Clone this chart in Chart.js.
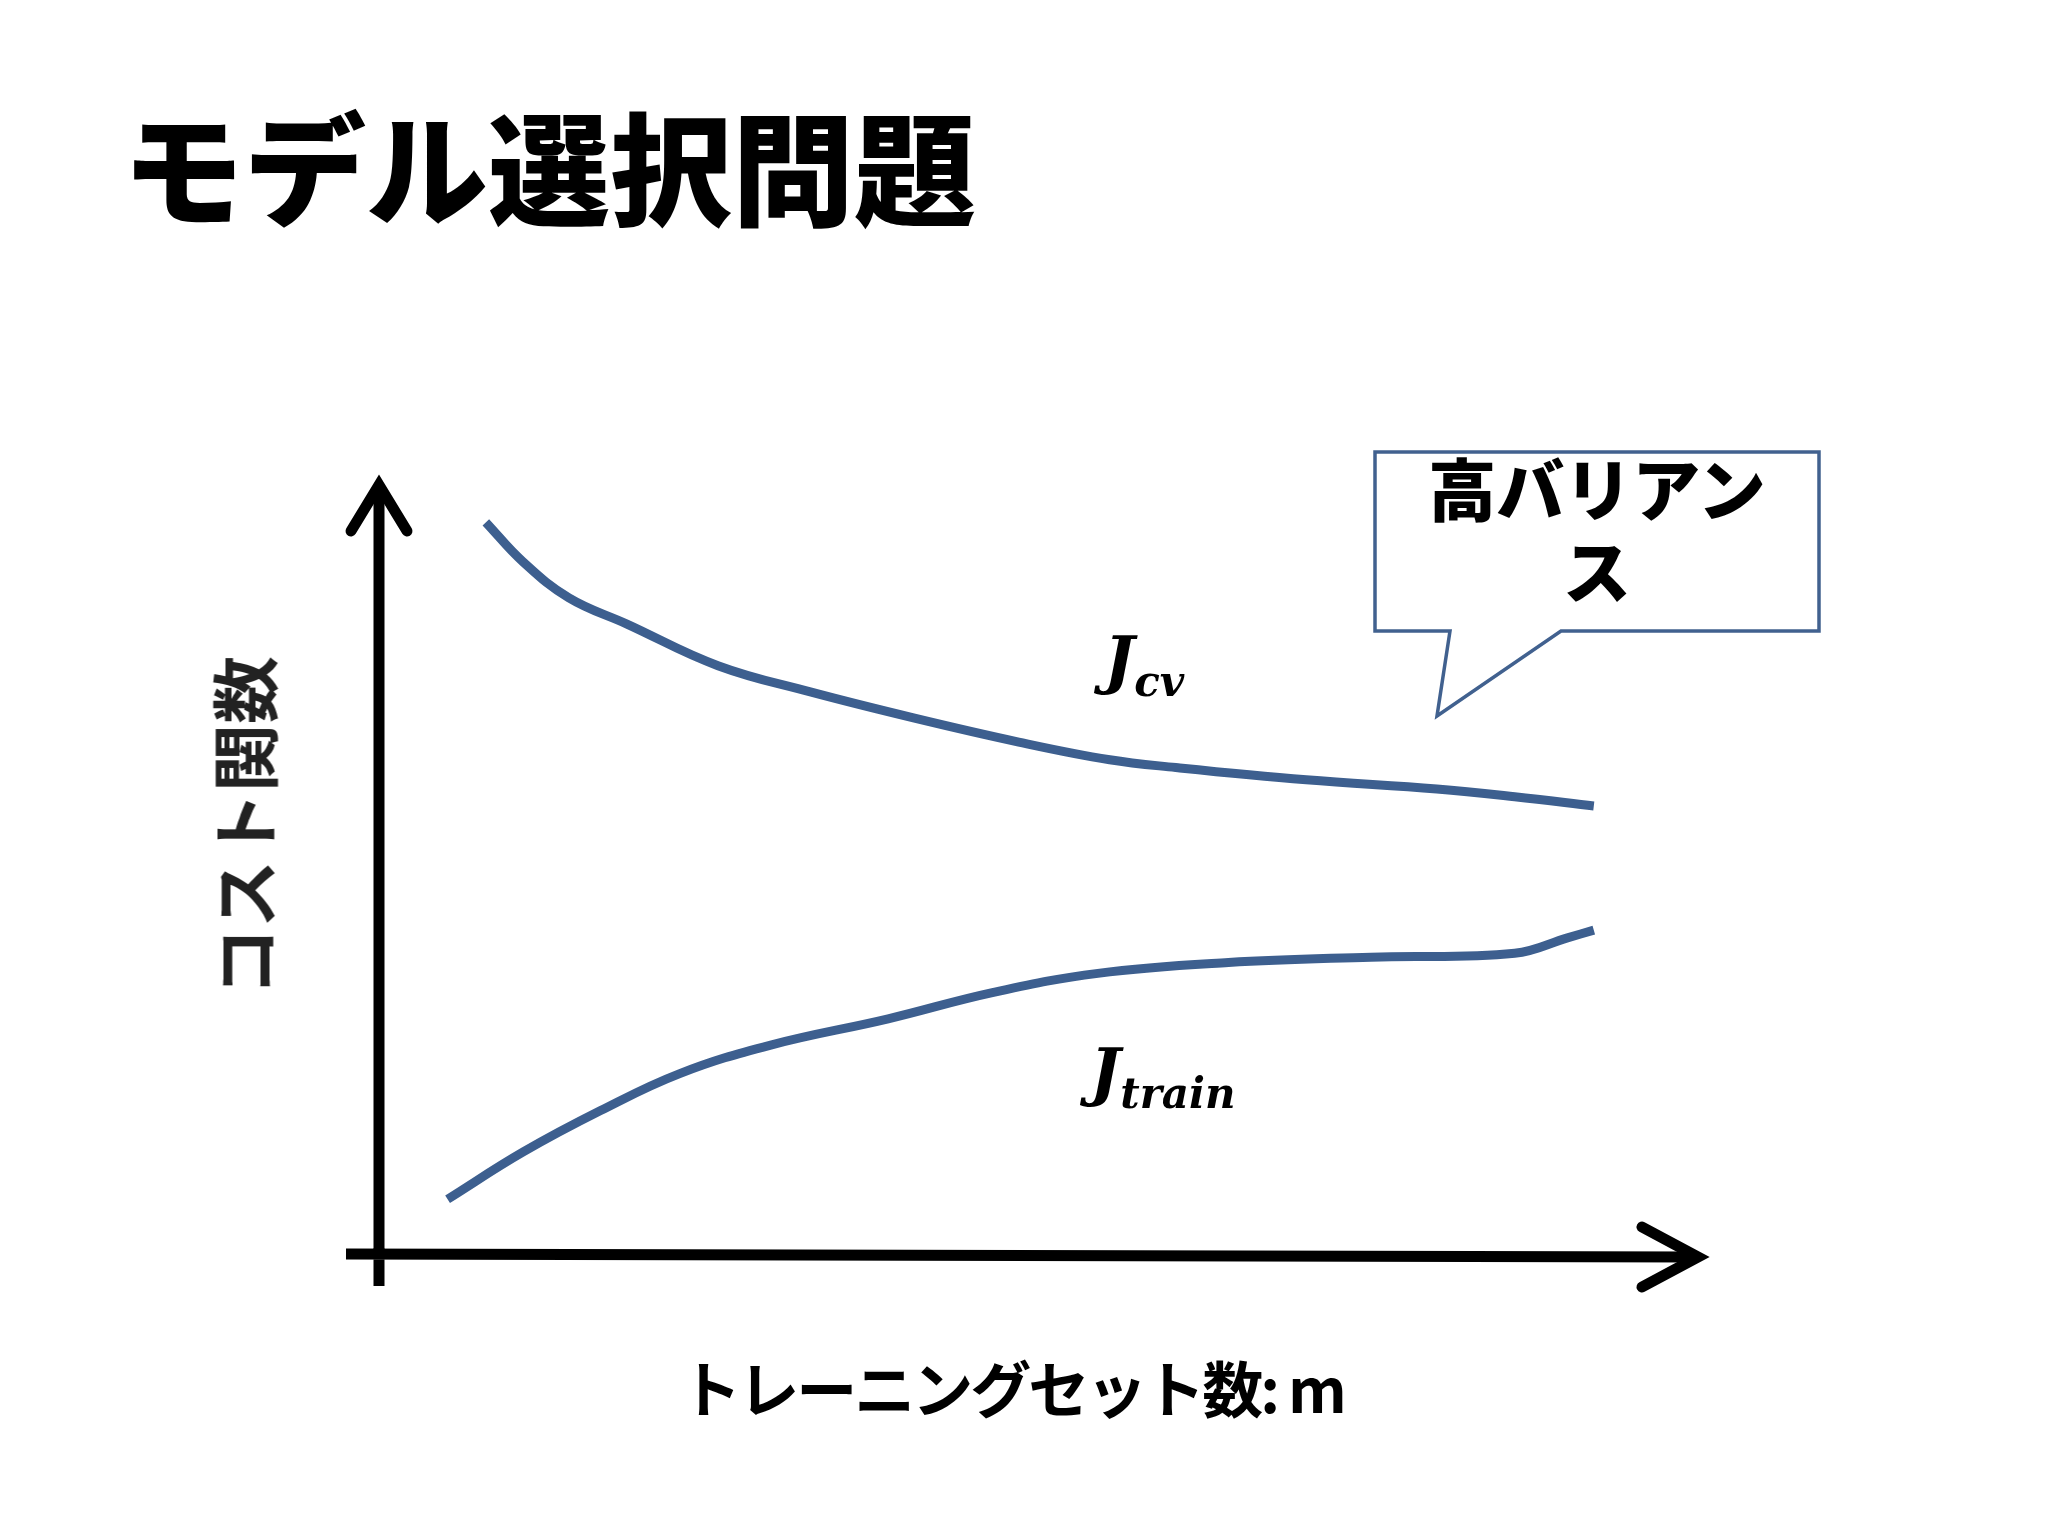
<!DOCTYPE html>
<html><head><meta charset="utf-8">
<script src="https://cdn.jsdelivr.net/npm/chart.js@4"></script>
<style>
  html,body{margin:0;padding:0;background:#fff;}
  #wrap{position:relative;width:2048px;height:1536px;font-family:"Noto Sans CJK JP","Noto Sans",sans-serif;}
  canvas{position:absolute;left:0;top:0;}
  .t{position:absolute;white-space:nowrap;color:#000;font-weight:700;}
  .j{position:absolute;font-family:"DejaVu Serif",serif;font-style:italic;font-weight:700;font-size:64px;}
  .j sub{font-size:42px;vertical-align:-14px;}
</style></head>
<body><div id="wrap">
<canvas id="c" width="2048" height="1536"></canvas>
<div class="t" style="left:122px;top:74px;font-size:122px;font-weight:900;letter-spacing:0px;">モデル選択問題</div>
<div class="t" style="left:242px;top:826px;font-size:68px;color:#222;transform:translate(-50%,-50%) rotate(-90deg);">コスト関数</div>
<div class="t" style="left:1012px;top:1386px;font-size:61px;transform:translate(-50%,-50%);letter-spacing:-3px;">トレーニングセット数: m</div>
<div class="j" style="left:1104px;top:622px;">J<sub>cv</sub></div>
<div class="j" style="left:1090px;top:1034px;">J<sub>train</sub></div>
<div class="t" style="left:1597px;top:446px;font-size:68px;font-weight:900;text-align:center;line-height:82px;transform:translateX(-50%);">高バリアン<br>ス</div>
</div>
<script>
// curve samples (x: 0..100 along the axis, y: 0..100 up)
const cvX = [8.1, 10.9, 14.4, 18.8, 25.7, 32.7, 40.6, 48.5, 55.4, 60.4, 70.3, 80.2, 86.1, 92.1];
const cvY = [94.9, 89.8, 85.1, 81.7, 76.3, 72.9, 69.5, 66.4, 64.1, 63.1, 61.5, 60.3, 59.3, 58.1];
const trainX = [5.2, 10.9, 16.8, 22.8, 29.7, 38.6, 46.5, 54.5, 64.4, 75.2, 86.1, 90.1, 92.1];
const trainY = [7.1, 13.2, 18.6, 23.4, 27.1, 30.5, 33.9, 36.4, 37.8, 38.5, 39.0, 41.0, 42.0];

const LINE = "#3d5f8f";
const pts = (xs, ys) => xs.map((x, i) => ({ x, y: ys[i] }));

// axes arrows + speech-bubble callout
const decor = {
  id: "decor",
  beforeDatasetsDraw(chart) {
    const { ctx, chartArea: a } = chart;
    ctx.save();
    ctx.strokeStyle = "#000"; ctx.lineWidth = 11; ctx.lineCap = "butt"; ctx.lineJoin = "miter";
    ctx.beginPath();
    ctx.moveTo(a.left, a.bottom + 32); ctx.lineTo(a.left, a.top + 4);
    ctx.moveTo(a.left - 33, a.bottom); ctx.lineTo(a.right - 4, a.bottom + 3);
    ctx.stroke();
    ctx.lineCap = "round";
    ctx.beginPath();
    ctx.moveTo(a.left - 28, a.top + 48); ctx.lineTo(a.left, a.top + 2); ctx.lineTo(a.left + 28, a.top + 48);
    ctx.moveTo(a.right - 56, a.bottom - 27); ctx.lineTo(a.right, a.bottom + 3); ctx.lineTo(a.right - 56, a.bottom + 33);
    ctx.stroke();
    // callout
    ctx.strokeStyle = "#41618f"; ctx.lineWidth = 3.5; ctx.lineJoin = "miter";
    ctx.fillStyle = "#fff";
    ctx.beginPath();
    ctx.moveTo(1375, 452); ctx.lineTo(1819, 452); ctx.lineTo(1819, 631);
    ctx.lineTo(1561, 631); ctx.lineTo(1437, 716); ctx.lineTo(1450, 631);
    ctx.lineTo(1375, 631); ctx.closePath();
    ctx.fill(); ctx.stroke();
    ctx.restore();
  }
};

new Chart(document.getElementById("c"), {
  type: "scatter",
  data: {
    datasets: [
      { data: pts(cvX, cvY), showLine: true, borderColor: LINE, borderWidth: 9, tension: 0.4, pointRadius: 0 },
      { data: pts(trainX, trainY), showLine: true, borderColor: LINE, borderWidth: 9, tension: 0.4, pointRadius: 0 },
    ]
  },
  options: {
    responsive: false, animation: false,
    layout: { padding: { left: 379, right: 350, top: 483, bottom: 282 } },
    plugins: { legend: { display: false }, tooltip: { enabled: false } },
    scales: {
      x: { type: "linear", min: 0, max: 100, display: false },
      y: { min: 0, max: 100, display: false }
    }
  },
  plugins: [decor]
});
</script>
</body></html>
